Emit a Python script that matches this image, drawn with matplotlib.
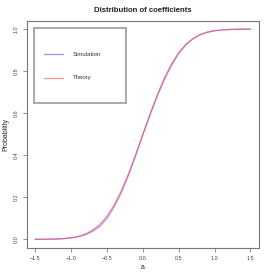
import matplotlib
matplotlib.use("Agg")
import matplotlib.pyplot as plt
from matplotlib.patches import Rectangle
from matplotlib.lines import Line2D

plt.rcParams['font.family'] = ['Liberation Sans', 'DejaVu Sans']

a_vals = [-1.5, -1.4, -1.3, -1.2, -1.1, -1.0, -0.9, -0.8, -0.7, -0.6, -0.5, -0.4, -0.3, -0.2, -0.1,
          0.0, 0.1, 0.2, 0.3, 0.4, 0.5, 0.6, 0.7, 0.8, 0.9, 1.0, 1.1, 1.2, 1.3, 1.4, 1.5]
theory = [0.0001, 0.0003, 0.0008, 0.0017, 0.0037, 0.0073, 0.014, 0.0256, 0.044, 0.0717, 0.111,
          0.1646, 0.232, 0.313, 0.404, 0.5, 0.596, 0.687, 0.768, 0.8354, 0.889, 0.9283, 0.956,
          0.9744, 0.986, 0.9927, 0.9963, 0.9983, 0.9992, 0.9997, 0.9999]
simulation = [0.0, 0.0, 0.0005, 0.0012, 0.003, 0.0068, 0.012, 0.022, 0.038, 0.062, 0.100,
              0.155, 0.222, 0.305, 0.398, 0.497, 0.592, 0.680, 0.760, 0.828, 0.884, 0.925, 0.954,
              0.973, 0.985, 0.992, 0.996, 0.998, 0.999, 1.0, 1.0]
x_ticks = [-1.5, -1.0, -0.5, 0.0, 0.5, 1.0, 1.5]
y_ticks = [0.0, 0.2, 0.4, 0.6, 0.8, 1.0]
title = "Distribution of coefficients"
legend_labels = ["Simulation", "Theory"]

W = 273
fig = plt.figure(figsize=(2.73, 2.73), dpi=100)
ax = fig.add_axes([26.7 / W, 1 - 247.7 / W, (259 - 26.7) / W, (247.7 - 20.7) / W])

sim_color = (0.3, 0.3, 1.0, 0.6)
th_color = (1.0, 0.3, 0.3, 0.6)
ax.plot(a_vals, simulation, color=sim_color, lw=0.9)
ax.plot(a_vals, theory, color=th_color, lw=0.9)

ax.set_xlim(-1.62, 1.62)
ax.set_ylim(-0.04, 1.04)
ax.set_xticks(x_ticks)
ax.set_xticklabels([f"{v:.1f}".replace("-", "\u2212") for v in x_ticks])
ax.set_yticks(y_ticks)
ax.set_yticklabels([f"{v:.1f}" for v in y_ticks], rotation=90, va='center')

gray = '#777777'
for s in ax.spines.values():
    s.set_color(gray)
    s.set_linewidth(0.8)
ax.tick_params(axis='both', colors=gray, labelcolor='#444444', labelsize=3.9,
               length=3, width=0.6, pad=3)

ax.set_xlabel("a", fontsize=5, color='#222222', labelpad=2)
ax.set_ylabel("Probability", fontsize=5, color='#222222', labelpad=3)
fig.text(143 / W, 1 - 10.5 / W, title, ha='center', va='center', fontsize=5.6,
         fontweight='bold', color='#222222')

# legend box
fig.patches.append(Rectangle((34 / W, 1 - 103 / W), (126 - 34) / W, (103 - 28.3) / W,
                             transform=fig.transFigure, fill=False, edgecolor='#999999', lw=1.2))
for yy, col, lab in [(54, sim_color, legend_labels[0]), (78, th_color, legend_labels[1])]:
    fig.lines.append(Line2D([44 / W, 63 / W], [1 - yy / W, 1 - yy / W],
                            transform=fig.transFigure, color=col, lw=0.9))
    fig.text(72.7 / W, 1 - yy / W, lab, ha='left', va='center', fontsize=4.3, color='#333333')

fig.savefig("out.png", dpi=100)
